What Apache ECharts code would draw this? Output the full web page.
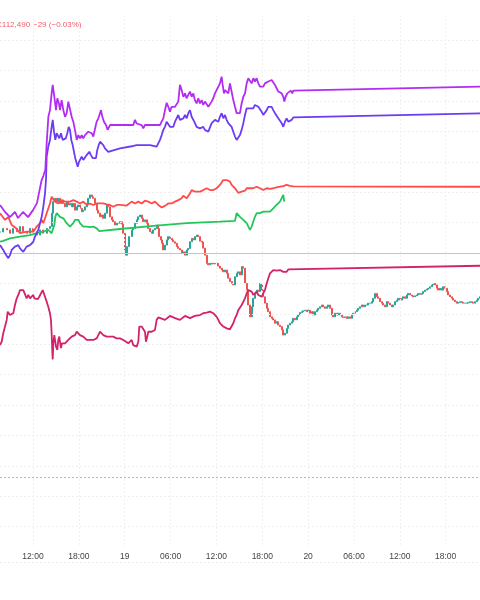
<!DOCTYPE html>
<html><head><meta charset="utf-8">
<script src="https://cdn.jsdelivr.net/npm/echarts@6/dist/echarts.min.js"></script>
<style>html,body{margin:0;padding:0;background:#fff}#c{width:480px;height:600px}</style>
</head><body><div id="c"></div>
<script>
// x = hours since 18th 00:00, y = percent change (grid step 1)
const xTickHours = [12,18,24,30,36,42,48,54,60,66];
const xTickLabels = ['12:00','18:00','19','06:00','12:00','18:00','20','06:00','12:00','18:00'];
const gridLevels = [7,6,5,4,3,2,1,-1,-2,-3,-4,-5,-6,-7,-8,-9];
const baselineLevel = 0;
const alertLevel = -7.36;
const headerClose = 'C112,490';
const headerChange = '\u221229 (\u22120.03%)';

const purpleSeries = [[7.68,1.58],[8.34,1.35],[8.99,1.18],[9.64,1.35],[10.04,1.15],[10.69,1.35],[11.35,1.18],[12.00,1.41],[12.52,1.64],[12.78,1.97],[13.13,2.40],[13.35,2.53],[13.61,2.73],[13.79,3.61],[14.01,4.48],[14.22,4.70],[14.44,5.25],[14.58,5.53],[14.79,5.14],[15.01,4.70],[15.18,5.09],[15.40,4.92],[15.53,4.70],[15.75,5.03],[15.97,4.70],[16.19,4.48],[16.41,4.60],[16.62,4.98],[16.84,4.98],[17.06,4.48],[17.27,4.32],[17.49,4.05],[17.72,3.72],[17.93,3.88],[18.15,3.77],[18.37,3.88],[18.58,3.77],[18.80,3.88],[19.02,3.88],[19.24,3.99],[19.46,4.05],[19.68,3.94],[19.89,3.83],[20.11,3.83],[20.33,4.32],[20.55,4.43],[20.77,4.60],[20.90,4.70],[21.07,4.48],[21.29,4.32],[21.55,4.21],[21.77,4.05],[21.98,4.10],[22.07,4.21],[25.13,4.21],[25.34,4.38],[25.56,4.26],[26.22,4.21],[26.43,4.10],[26.65,4.21],[28.62,4.21],[28.83,4.32],[29.05,4.43],[29.27,4.70],[29.49,4.94],[29.71,4.81],[29.92,4.65],[30.14,4.81],[30.36,4.76],[30.58,4.81],[30.80,4.76],[31.01,4.98],[31.23,5.53],[31.45,5.36],[31.67,5.14],[31.89,5.25],[32.10,5.09],[32.32,5.20],[32.54,5.31],[32.76,5.14],[32.98,5.25],[33.19,5.03],[33.41,4.92],[33.63,5.09],[33.85,4.92],[34.07,5.03],[34.28,4.87],[34.50,4.98],[34.72,4.92],[34.94,4.81],[35.16,4.76],[35.37,4.98],[35.59,5.09],[35.81,5.25],[36.03,5.31],[36.25,5.47],[36.46,5.58],[36.68,5.80],[36.82,5.53],[36.99,5.25],[37.12,5.36],[37.34,5.42],[37.56,5.25],[37.77,5.58],[37.99,5.31],[38.21,5.03],[38.43,4.81],[38.65,4.60],[38.86,4.65],[39.08,4.60],[39.30,4.92],[39.52,5.14],[39.74,5.25],[39.96,5.58],[40.17,5.75],[40.39,5.69],[40.61,5.58],[40.83,5.75],[41.04,5.64],[41.26,5.75],[41.48,5.58],[41.70,5.47],[41.92,5.53],[42.13,5.47],[42.35,5.58],[42.57,5.53],[42.79,5.64],[43.01,5.58],[43.23,5.69],[43.44,5.64],[43.66,5.53],[43.88,5.42],[44.10,5.31],[44.32,5.36],[44.54,5.25],[44.75,5.14],[44.88,4.98],[45.06,5.14],[45.27,5.25],[45.50,5.20],[45.72,5.34],[45.93,5.25],[46.06,5.34],[70.49,5.47]];

const violetSeries = [[7.68,0.26],[8.11,0.10],[8.34,-0.01],[8.56,-0.07],[8.77,-0.17],[8.99,-0.07],[9.21,0.10],[9.42,0.15],[9.64,0.21],[9.87,0.15],[10.08,0.26],[10.30,0.15],[10.52,0.10],[10.73,0.04],[10.95,0.10],[11.17,0.21],[11.39,0.15],[11.61,0.26],[11.83,0.26],[12.04,0.37],[12.26,0.54],[12.48,0.59],[12.69,0.76],[12.92,0.98],[13.14,1.19],[13.35,1.52],[13.57,1.96],[13.70,2.40],[13.79,3.17],[14.00,3.50],[14.22,3.72],[14.44,4.15],[14.58,4.38],[14.75,3.99],[14.92,3.72],[15.10,3.94],[15.23,3.99],[15.44,3.77],[15.66,3.94],[15.89,3.72],[16.06,3.66],[16.28,3.77],[16.49,3.94],[16.67,4.15],[16.84,4.05],[17.01,3.72],[17.19,3.55],[17.36,3.33],[17.53,3.12],[17.72,2.95],[17.85,2.84],[18.02,3.00],[18.15,3.06],[18.37,3.17],[18.58,3.06],[18.80,3.12],[19.02,3.22],[19.24,3.28],[19.37,3.33],[19.59,3.22],[19.81,3.12],[20.02,3.06],[20.24,3.12],[20.41,3.39],[20.60,3.55],[20.77,3.66],[20.99,3.72],[21.20,3.55],[21.42,3.44],[21.64,3.39],[21.85,3.33],[22.07,3.39],[23.38,3.44],[25.12,3.52],[25.57,3.55],[25.78,3.50],[26.22,3.55],[26.87,3.55],[27.31,3.55],[28.18,3.50],[28.40,3.55],[28.62,3.72],[28.84,3.88],[29.05,4.05],[29.27,4.15],[29.49,4.32],[29.70,4.27],[29.92,4.15],[30.15,4.21],[30.36,4.15],[30.58,4.32],[30.80,4.27],[31.01,4.54],[31.23,4.38],[31.45,4.32],[31.67,4.43],[31.89,4.54],[32.11,4.43],[32.32,4.60],[32.54,4.70],[32.76,4.48],[32.98,4.38],[33.19,4.27],[33.41,4.15],[33.63,4.21],[33.85,4.10],[34.07,4.05],[34.28,4.15],[34.50,4.05],[34.72,4.10],[34.94,3.99],[35.16,4.05],[35.38,4.27],[35.59,4.21],[35.81,4.38],[36.03,4.43],[36.25,4.32],[36.46,4.48],[36.69,4.60],[36.90,4.43],[37.12,4.54],[37.34,4.38],[37.55,4.27],[37.77,4.32],[37.99,4.15],[38.21,3.99],[38.43,3.83],[38.65,3.72],[38.86,3.77],[39.08,3.88],[39.30,4.05],[39.52,4.27],[39.74,4.54],[39.96,4.76],[40.17,4.81],[40.39,4.76],[40.61,4.70],[40.82,4.76],[41.04,4.87],[41.27,4.92],[41.48,4.81],[41.70,4.76],[41.92,4.65],[42.13,4.54],[42.35,4.60],[42.58,4.70],[42.79,4.81],[43.01,4.87],[43.23,4.81],[43.44,4.70],[43.66,4.60],[43.88,4.54],[44.10,4.43],[44.32,4.38],[44.54,4.27],[44.75,4.15],[44.97,4.32],[45.19,4.43],[45.40,4.32],[45.63,4.27],[45.85,4.38],[46.06,4.46],[70.49,4.59]];

const redSeries = [[7.68,1.31],[8.34,1.09],[8.77,1.19],[9.21,0.92],[9.77,0.82],[10.30,0.65],[11.17,0.70],[12.04,0.70],[12.48,0.87],[12.92,0.98],[13.14,1.09],[13.35,0.98],[13.79,1.31],[14.22,1.63],[14.44,1.85],[14.58,1.91],[14.88,1.69],[15.31,1.63],[15.75,1.74],[16.19,1.69],[16.41,1.74],[16.84,1.69],[17.27,1.74],[17.72,1.69],[18.15,1.63],[18.58,1.69],[19.02,1.58],[19.46,1.63],[19.89,1.58],[20.33,1.63],[20.77,1.63],[21.20,1.63],[21.64,1.60],[22.07,1.58],[22.51,1.52],[22.95,1.58],[23.38,1.58],[24.26,1.56],[24.91,1.69],[25.35,1.63],[25.78,1.69],[26.22,1.63],[26.65,1.72],[27.09,1.69],[27.53,1.63],[27.96,1.69],[28.40,1.58],[28.84,1.50],[29.05,1.47],[29.27,1.55],[29.70,1.63],[30.15,1.63],[30.58,1.69],[31.01,1.74],[31.45,1.80],[31.66,1.88],[31.89,1.91],[32.11,1.80],[32.32,1.85],[32.54,1.96],[32.76,2.07],[32.98,2.13],[33.19,2.02],[33.42,2.07],[33.85,2.02],[34.28,2.07],[34.72,2.13],[35.16,2.07],[35.59,2.07],[36.03,2.13],[36.46,2.24],[36.69,2.29],[36.90,2.40],[37.12,2.46],[37.34,2.40],[37.55,2.46],[37.77,2.35],[37.99,2.24],[38.21,2.18],[38.43,2.13],[38.65,2.07],[38.86,1.98],[39.08,1.96],[39.30,2.02],[39.52,2.07],[39.74,2.05],[39.96,2.13],[40.17,2.18],[40.39,2.13],[40.61,2.18],[40.82,2.13],[41.27,2.18],[41.70,2.13],[42.13,2.07],[42.58,2.13],[43.01,2.11],[43.44,2.13],[43.88,2.16],[44.32,2.18],[44.75,2.20],[45.19,2.24],[45.63,2.21],[46.06,2.19],[70.49,2.18]];

const greenSeries = [[7.68,0.37],[8.11,0.40],[8.99,0.48],[10.30,0.54],[11.61,0.59],[12.48,0.65],[13.35,0.70],[14.00,0.76],[14.22,0.81],[14.44,0.65],[14.66,0.59],[14.79,0.92],[14.92,1.19],[15.10,1.31],[15.31,1.36],[15.53,1.19],[15.75,1.25],[15.97,1.14],[16.19,1.09],[16.41,0.98],[16.62,0.92],[16.84,0.87],[17.06,0.92],[17.27,0.98],[17.49,1.09],[17.72,1.14],[17.93,1.09],[18.15,0.98],[18.37,0.92],[18.58,0.87],[18.80,0.85],[19.02,0.87],[19.46,0.85],[19.89,0.87],[20.33,0.81],[20.55,0.87],[20.67,0.72],[20.77,0.70],[23.38,0.79],[27.74,0.89],[32.11,0.98],[36.46,1.03],[38.43,1.06],[38.65,1.31],[38.86,1.25],[39.08,1.19],[39.30,1.14],[39.52,1.09],[39.74,1.03],[39.96,0.98],[40.17,0.92],[40.39,0.76],[40.61,0.87],[40.82,1.03],[41.04,1.19],[41.27,1.31],[41.48,1.36],[41.70,1.31],[41.92,1.33],[42.13,1.36],[42.35,1.31],[42.58,1.36],[42.79,1.41],[43.01,1.36],[43.23,1.41],[43.44,1.47],[43.66,1.52],[43.88,1.58],[44.10,1.63],[44.32,1.69],[44.54,1.74],[44.75,1.91],[44.88,1.69]];

const crimsonSeries = [[7.68,-3.03],[7.90,-2.92],[8.11,-2.64],[8.34,-2.42],[8.56,-2.20],[8.69,-1.93],[8.86,-1.88],[8.99,-2.04],[9.21,-2.10],[9.42,-1.98],[9.64,-1.71],[9.87,-1.49],[10.08,-1.38],[10.30,-1.22],[10.52,-1.24],[10.73,-1.22],[10.95,-1.27],[11.17,-1.49],[11.39,-1.38],[11.61,-1.49],[11.83,-1.44],[12.04,-1.38],[12.17,-1.49],[12.39,-1.44],[12.61,-1.52],[12.82,-1.44],[13.05,-1.49],[13.27,-1.22],[13.44,-1.27],[13.57,-1.44],[13.79,-1.60],[14.00,-1.77],[14.22,-1.98],[14.35,-2.20],[14.44,-2.64],[14.52,-3.19],[14.58,-3.50],[14.66,-2.97],[14.79,-2.70],[14.88,-2.64],[15.01,-3.08],[15.18,-3.19],[15.31,-2.86],[15.44,-2.75],[15.53,-2.92],[15.66,-3.13],[15.79,-2.97],[15.96,-2.92],[16.19,-2.97],[16.41,-2.92],[16.62,-2.86],[16.84,-2.86],[17.06,-2.75],[17.27,-2.70],[17.49,-2.70],[17.72,-2.59],[17.93,-2.64],[18.15,-2.70],[18.37,-2.70],[18.58,-2.75],[18.80,-2.81],[19.02,-2.86],[19.46,-2.86],[19.89,-2.86],[20.33,-2.81],[20.55,-2.70],[20.77,-2.59],[20.99,-2.64],[21.20,-2.70],[21.64,-2.75],[22.07,-2.75],[22.51,-2.75],[22.95,-2.81],[23.38,-2.81],[23.82,-2.86],[24.04,-2.92],[24.47,-2.97],[24.69,-2.92],[24.91,-2.86],[25.12,-3.03],[25.35,-3.08],[25.57,-3.08],[25.78,-2.92],[25.91,-2.42],[26.22,-2.42],[26.43,-2.48],[26.65,-2.59],[26.78,-2.92],[26.95,-2.75],[27.09,-2.59],[27.53,-2.59],[27.74,-2.53],[27.96,-2.53],[28.18,-2.20],[28.40,-2.12],[28.62,-2.15],[29.27,-2.20],[29.92,-2.07],[30.58,-2.14],[31.23,-2.20],[31.89,-2.07],[32.54,-2.14],[33.19,-2.07],[33.85,-2.04],[34.28,-1.98],[34.72,-1.96],[35.16,-1.93],[35.59,-1.98],[36.03,-2.10],[36.25,-2.20],[36.46,-2.31],[36.69,-2.37],[36.90,-2.42],[37.12,-2.44],[37.34,-2.48],[37.55,-2.42],[37.77,-2.51],[37.99,-2.56],[38.21,-2.31],[38.43,-2.15],[38.65,-2.04],[38.86,-1.88],[39.08,-1.82],[39.30,-1.71],[39.52,-1.65],[39.74,-1.49],[39.96,-1.33],[40.17,-1.22],[40.39,-1.16],[40.61,-1.27],[40.82,-1.38],[41.04,-1.33],[41.27,-1.27],[41.48,-1.38],[41.70,-1.33],[41.92,-1.44],[42.13,-1.33],[42.35,-1.22],[42.58,-1.00],[42.79,-0.83],[43.01,-0.67],[43.23,-0.62],[43.44,-0.56],[43.66,-0.62],[43.88,-0.58],[44.10,-0.62],[44.32,-0.56],[44.54,-0.54],[44.75,-0.62],[44.97,-0.67],[45.19,-0.62],[45.40,-0.54],[45.63,-0.53],[70.49,-0.42]];

// main symbol candle closes [hour, close]
const candleCloses = [[7.68,0.69],[8.11,0.81],[8.56,0.76],[8.99,0.65],[9.42,0.81],[9.87,0.70],[10.30,0.87],[10.73,0.70],[11.17,0.65],[11.61,0.81],[12.04,0.70],[12.48,0.59],[12.92,0.76],[13.35,0.65],[13.79,0.81],[14.22,0.87],[14.44,1.31],[14.66,1.69],[14.88,1.80],[15.10,1.69],[15.31,1.80],[15.53,1.63],[15.75,1.74],[15.96,1.63],[16.19,1.52],[16.41,1.69],[16.62,1.58],[16.84,1.63],[17.06,1.52],[17.27,1.63],[17.49,1.41],[17.72,1.52],[17.93,1.58],[18.15,1.47],[18.37,1.36],[18.58,1.41],[18.80,1.52],[19.02,1.63],[19.24,1.80],[19.46,1.91],[19.68,1.85],[19.89,1.80],[20.11,1.63],[20.33,1.41],[20.55,1.31],[20.77,1.19],[20.99,1.25],[21.20,1.14],[21.42,1.31],[21.64,1.58],[21.85,1.52],[22.07,1.19],[22.29,1.09],[22.51,1.03],[22.73,0.92],[22.95,0.98],[23.16,0.98],[23.38,1.03],[23.60,0.95],[23.82,0.65],[24.04,0.10],[24.17,-0.07],[24.34,0.21],[24.60,0.54],[24.91,0.76],[25.12,0.81],[25.35,0.98],[25.57,1.09],[25.78,1.19],[26.00,1.25],[26.22,1.14],[26.43,1.03],[26.65,1.09],[26.87,0.98],[27.09,0.81],[27.31,0.70],[27.53,0.65],[27.74,0.76],[27.96,0.81],[28.18,0.92],[28.40,0.81],[28.53,0.54],[28.71,0.43],[28.92,0.32],[29.05,0.10],[29.27,0.26],[29.49,0.43],[29.70,0.54],[29.92,0.48],[30.15,0.43],[30.36,0.37],[30.58,0.32],[30.80,0.21],[31.01,0.15],[31.23,0.10],[31.45,-0.01],[31.67,0.04],[31.89,-0.07],[32.11,0.10],[32.32,0.15],[32.54,0.37],[32.76,0.48],[32.98,0.43],[33.19,0.54],[33.42,0.59],[33.63,0.54],[33.85,0.39],[34.07,0.36],[34.28,0.16],[34.50,-0.07],[34.72,-0.34],[34.94,-0.39],[35.16,-0.34],[35.38,-0.36],[35.59,-0.34],[35.81,-0.36],[36.03,-0.34],[36.25,-0.43],[36.46,-0.50],[36.69,-0.56],[36.90,-0.62],[37.12,-0.56],[37.34,-0.67],[37.55,-0.83],[37.77,-0.94],[37.99,-1.00],[38.21,-1.05],[38.43,-0.78],[38.65,-0.67],[38.86,-0.62],[39.08,-0.72],[39.30,-0.45],[39.52,-0.50],[39.74,-1.00],[39.96,-1.22],[40.17,-1.71],[40.39,-2.10],[40.61,-1.77],[40.82,-1.49],[41.04,-1.33],[41.27,-1.22],[41.48,-1.27],[41.70,-1.00],[41.92,-1.22],[42.13,-1.44],[42.35,-1.65],[42.58,-1.82],[42.79,-1.93],[43.01,-2.10],[43.23,-2.15],[43.44,-2.20],[43.66,-2.31],[43.88,-2.26],[44.10,-2.37],[44.32,-2.42],[44.54,-2.53],[44.75,-2.70],[44.97,-2.64],[45.19,-2.48],[45.40,-2.37],[45.63,-2.31],[45.85,-2.26],[46.06,-2.15],[46.28,-2.20],[46.50,-2.10],[46.71,-2.04],[46.93,-1.96],[47.15,-1.93],[47.37,-1.90],[47.59,-1.88],[47.80,-1.93],[48.02,-1.88],[48.24,-1.98],[48.46,-1.93],[48.68,-2.04],[48.89,-1.93],[49.11,-1.88],[49.33,-1.82],[49.55,-1.77],[49.77,-1.71],[49.98,-1.77],[50.20,-1.82],[50.42,-1.77],[50.64,-1.71],[50.86,-1.82],[51.08,-2.04],[51.29,-2.10],[51.51,-1.98],[51.73,-2.04],[51.95,-1.98],[52.17,-2.04],[52.38,-2.10],[52.60,-2.12],[52.82,-2.10],[53.04,-2.15],[53.26,-2.10],[53.47,-2.15],[53.69,-2.04],[53.91,-1.98],[54.13,-1.93],[54.35,-1.88],[54.56,-1.82],[54.78,-1.77],[55.00,-1.71],[55.22,-1.77],[55.44,-1.71],[55.65,-1.71],[55.87,-1.65],[56.09,-1.65],[56.31,-1.60],[56.53,-1.49],[56.75,-1.33],[56.96,-1.44],[57.18,-1.49],[57.40,-1.60],[57.62,-1.65],[57.84,-1.71],[58.05,-1.77],[58.27,-1.60],[58.49,-1.65],[58.71,-1.71],[58.93,-1.77],[59.14,-1.71],[59.36,-1.60],[59.58,-1.55],[59.80,-1.49],[60.02,-1.55],[60.23,-1.49],[60.45,-1.44],[60.67,-1.49],[60.89,-1.38],[61.11,-1.33],[61.32,-1.38],[61.54,-1.41],[61.76,-1.44],[61.98,-1.41],[62.20,-1.38],[62.41,-1.33],[62.63,-1.36],[62.85,-1.33],[63.07,-1.27],[63.29,-1.22],[63.50,-1.19],[63.72,-1.16],[63.94,-1.11],[64.16,-1.05],[64.38,-1.00],[64.59,-1.05],[64.81,-1.16],[65.03,-1.22],[65.25,-1.16],[65.47,-1.22],[65.69,-1.11],[65.90,-1.16],[66.12,-1.27],[66.34,-1.38],[66.56,-1.44],[66.78,-1.49],[66.99,-1.55],[67.21,-1.60],[67.43,-1.65],[67.65,-1.63],[67.87,-1.60],[68.08,-1.63],[68.30,-1.65],[68.52,-1.65],[68.74,-1.65],[68.96,-1.63],[69.17,-1.60],[69.39,-1.63],[69.61,-1.65],[69.83,-1.60],[70.05,-1.55],[70.26,-1.49],[70.48,-1.44]];

// build OHLC: open = previous close
const candleData = candleCloses.map((p, i) => {
  const o = i === 0 ? p[1] : candleCloses[i-1][1];
  const c = p[1];
  return [p[0], o, c, Math.min(o, c), Math.max(o, c)];
});

const FONT = 'Liberation Sans, Arial, sans-serif';
const chart = echarts.init(document.getElementById('c'), null, {renderer: 'canvas'});
const gridLine = {color: '#f0f0f0', width: 1, type: [2, 2]};
function lineSeries(name, data, color) {
  return {name, type: 'line', data, showSymbol: false, symbol: 'none', z: 5,
    lineStyle: {color, width: 1.8}, emphasis: {disabled: true}};
}
chart.setOption({
  animation: false,
  backgroundColor: '#ffffff',
  grid: {left: 0, right: 0, top: 16, bottom: 55, containLabel: false},
  xAxis: {
    type: 'value', min: 7.682, max: 70.49,
    axisLine: {show: false}, axisTick: {show: false}, splitLine: {show: false},
    axisLabel: {
      customValues: xTickHours, margin: 7, color: '#444', fontSize: 8.5, fontFamily: FONT,
      formatter: v => { const i = xTickHours.indexOf(Math.round(v)); return i >= 0 ? xTickLabels[i] : ''; }
    }
  },
  yAxis: {type: 'value', min: -9.605, max: 7.796, show: false},
  graphic: [
    {type: 'text', left: -4, top: 21, style: {text: headerClose, fill: '#f45c69', font: '8px ' + FONT}},
    {type: 'text', left: 33, top: 21, style: {text: headerChange, fill: '#f45c69', font: '8px ' + FONT}},
    {type: 'line', shape: {x1: 0, y1: 562.5, x2: 480, y2: 562.5}, style: {stroke: '#ebebeb', lineWidth: 1, lineDash: [2, 2]}}
  ],
  series: [
    {type: 'line', data: [], z: 1, silent: true,
      markLine: {silent: true, symbol: 'none', label: {show: false}, animation: false,
        data: [
          ...gridLevels.map(v => ({yAxis: v, lineStyle: gridLine})),
          {yAxis: 7.796, lineStyle: gridLine},
          ...xTickHours.map(h => ({xAxis: h, lineStyle: gridLine})),
          {yAxis: baselineLevel, lineStyle: {color: '#c4c4c4', width: 1, type: 'solid'}},
          {yAxis: alertLevel, lineStyle: {color: '#f59aa3', width: 1, type: [2, 2]}}
        ]}},
    {type: 'candlestick', data: candleData, z: 3, barWidth: 1.5,
      itemStyle: {color: '#26a69a', color0: '#ef5350', borderColor: '#26a69a', borderColor0: '#ef5350', borderWidth: 1}},
    lineSeries('crimson', crimsonSeries, '#d4226a'),
    lineSeries('green', greenSeries, '#22c75a'),
    lineSeries('red', redSeries, '#ff4b4b'),
    lineSeries('violet', violetSeries, '#6c3cf4'),
    lineSeries('purple', purpleSeries, '#b32cf3')
  ]
});
</script></body></html>
